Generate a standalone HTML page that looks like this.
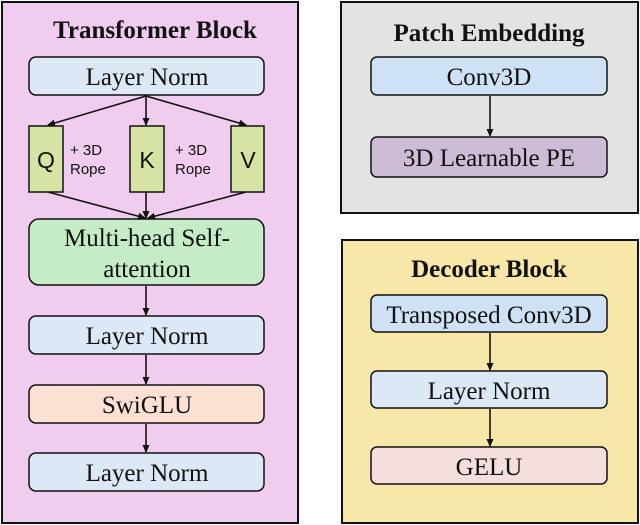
<!DOCTYPE html>
<html><head><meta charset="utf-8"><style>
html,body{margin:0;padding:0;background:#fff;width:640px;height:525px;overflow:hidden}
svg text{font-family:"Liberation Serif",serif;fill:#111}
svg text.s{font-family:"Liberation Sans",sans-serif}
</style></head><body>
<svg width="640" height="525" viewBox="0 0 640 525" xmlns="http://www.w3.org/2000/svg">
<defs><marker id="a" markerWidth="8" markerHeight="8" refX="7" refY="4" orient="auto" markerUnits="userSpaceOnUse"><path d="M0,0.5 L8,4 L0,7.5 Z" fill="#111"/></marker></defs>
<g stroke="#111" stroke-width="2">
<rect x="2" y="2" width="296" height="521" fill="#f0cdee"/>
<rect x="341" y="2" width="297" height="211" fill="#e3e3e3"/>
<rect x="342" y="240" width="296" height="283" fill="#f7e7a9"/>
</g>
<g stroke="#111" stroke-width="1.5">
<rect x="29" y="57" width="235" height="38" rx="7" fill="#dce8f5"/>
<rect x="29" y="126" width="34" height="66" fill="#d5e3a4"/>
<rect x="130" y="126" width="34" height="66" fill="#d5e3a4"/>
<rect x="231" y="126" width="33" height="66" fill="#d5e3a4"/>
<rect x="29" y="219" width="235" height="66" rx="10" fill="#c5ecc7"/>
<rect x="29" y="316" width="235" height="38" rx="7" fill="#dce8f5"/>
<rect x="29" y="385" width="235" height="38" rx="7" fill="#fbe0d3"/>
<rect x="29" y="453" width="235" height="38" rx="7" fill="#dce8f5"/>
<rect x="371" y="57" width="236" height="38" rx="6" fill="#cfe2f5"/>
<rect x="371" y="137" width="236" height="40" rx="6" fill="#cdbcd6"/>
<rect x="371" y="295" width="236" height="37" rx="6" fill="#cfe2f5"/>
<rect x="371" y="371" width="236" height="37" rx="6" fill="#dce8f5"/>
<rect x="371" y="447" width="236" height="37" rx="6" fill="#f5dede"/>
</g>
<g stroke="#111" stroke-width="1.6" marker-end="url(#a)">
<line x1="146" y1="96" x2="48" y2="125"/>
<line x1="146" y1="96" x2="146" y2="125"/>
<line x1="146" y1="96" x2="246" y2="125"/>
<line x1="48" y1="192" x2="145" y2="218"/>
<line x1="146" y1="192" x2="146" y2="218"/>
<line x1="246" y1="192" x2="148" y2="218"/>
<line x1="146" y1="286" x2="146" y2="315"/>
<line x1="146" y1="355" x2="146" y2="384"/>
<line x1="146" y1="424" x2="146" y2="452"/>
<line x1="490" y1="96" x2="490" y2="136"/>
<line x1="490" y1="333" x2="490" y2="370"/>
<line x1="490" y1="409" x2="490" y2="446"/>
</g>
<g font-size="25" text-anchor="middle">
<text x="155" y="38" font-weight="bold">Transformer Block</text>
<text x="147" y="85">Layer Norm</text>
<text x="147" y="246">Multi-head Self-</text>
<text x="147" y="277">attention</text>
<text x="147" y="344">Layer Norm</text>
<text x="147" y="413">SwiGLU</text>
<text x="147" y="481">Layer Norm</text>
<text x="489" y="41" font-weight="bold">Patch Embedding</text>
<text x="489" y="85">Conv3D</text>
<text x="489" y="166">3D Learnable PE</text>
<text x="489" y="277" font-weight="bold">Decoder Block</text>
<text x="489" y="323">Transposed Conv3D</text>
<text x="489" y="399">Layer Norm</text>
<text x="489" y="475">GELU</text>
</g>
<g text-anchor="middle" font-size="23">
<text class="s" x="46" y="168">Q</text>
<text class="s" x="147" y="168">K</text>
<text class="s" x="248" y="168">V</text>
</g>
<g font-size="15">
<text class="s" x="70" y="155">+ 3D</text>
<text class="s" x="70" y="174">Rope</text>
<text class="s" x="175" y="155">+ 3D</text>
<text class="s" x="175" y="174">Rope</text>
</g>
</svg>
</body></html>
